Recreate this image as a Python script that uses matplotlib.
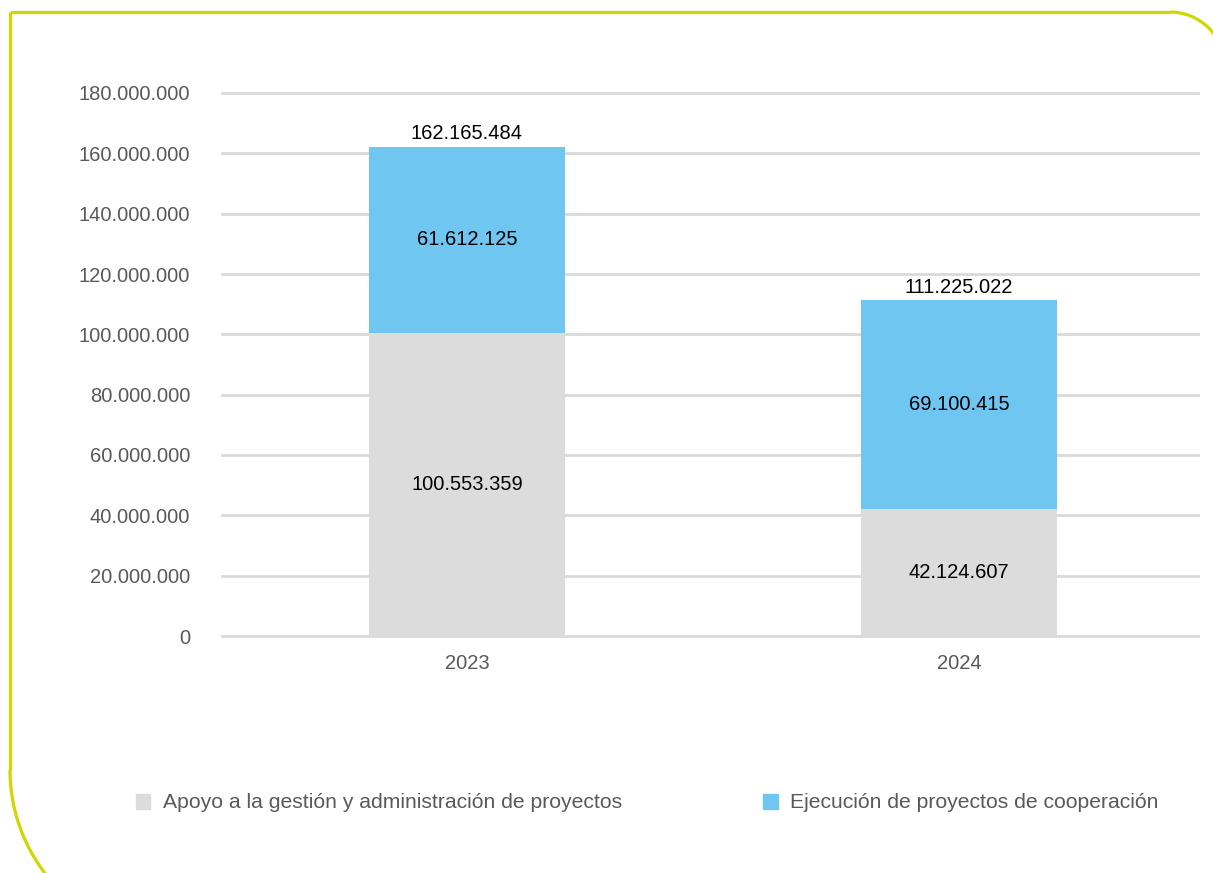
import numpy as np
import matplotlib
matplotlib.use('Agg')
import matplotlib.pyplot as plt
from matplotlib.patches import Arc, Patch

years = ['2023', '2024']
apoyo = [100553359, 42124607]
ejecucion = [61612125, 69100415]
totales = [162165484, 111225022]
series_names = ['Apoyo a la gestión y administración de proyectos',
                'Ejecución de proyectos de cooperación']

GRAY = '#dcdcdc'
BLUE = '#6ec6f1'
FRAME = '#d2d600'
TXT = '#595959'
FS = 14.5

plt.rcParams['font.family'] = ['Liberation Sans', 'DejaVu Sans']


def fmt(v):
    return f'{v:,.0f}'.replace(',', '.')


fig = plt.figure(figsize=(12.13, 8.73), dpi=100)

# rounded frame drawn in pixel coordinates on a full-figure overlay
bg = fig.add_axes([0, 0, 1, 1], zorder=0)
bg.set_xlim(0, 1213)
bg.set_ylim(873, 0)
bg.axis('off')
lw = 2.3
bg.plot([10, 10], [12, 770], color=FRAME, lw=lw, solid_capstyle='butt')
bg.plot([10, 1170], [12, 12], color=FRAME, lw=lw, solid_capstyle='butt')
bg.add_patch(Arc((180, 770), 340, 340, theta1=90, theta2=180,
                 color=FRAME, lw=lw))
bg.add_patch(Arc((1170, 67), 110, 110, theta1=270, theta2=360,
                 color=FRAME, lw=lw))

ax = fig.add_axes([222 / 1213, 237 / 873, (1198 - 222) / 1213, (636 - 93) / 873],
                  zorder=1)
ax.patch.set_alpha(0)
x = np.arange(len(years))
w = 0.4
ax.bar(x, apoyo, w, color=GRAY, zorder=2)
ax.bar(x, ejecucion, w, bottom=apoyo, color=BLUE, zorder=2)

for i in range(len(years)):
    ax.text(x[i], apoyo[i] / 2, fmt(apoyo[i]), ha='center', va='center',
            fontsize=FS, color='black', zorder=3)
    ax.text(x[i], apoyo[i] + ejecucion[i] / 2, fmt(ejecucion[i]),
            ha='center', va='center', fontsize=FS, color='black', zorder=3)
    ax.text(x[i], totales[i] + 1.3e6, fmt(totales[i]), ha='center',
            va='bottom', fontsize=FS, color='black', zorder=3)

ax.set_xlim(-0.498, 1.486)
ax.set_ylim(0, 180e6)
ax.set_yticks(np.arange(0, 180e6 + 1, 20e6))
ax.set_yticklabels([fmt(v) for v in np.arange(0, 180e6 + 1, 20e6)])
ax.set_xticks(x)
ax.set_xticklabels(years)
ax.tick_params(length=0, labelsize=FS, labelcolor=TXT)
ax.tick_params(axis='y', pad=23)
ax.tick_params(axis='x', pad=13)
ax.grid(axis='y', color='#d9d9d9', lw=2, zorder=0)
for gl in ax.get_ygridlines():
    gl.set_clip_on(False)
ax.set_axisbelow(True)
for s in ax.spines.values():
    s.set_visible(False)

handles = [Patch(color=GRAY), Patch(color=BLUE)]
fig.legend(handles, series_names, loc='center', bbox_to_anchor=(647 / 1213, 1 - 803 / 873),
           ncol=2, frameon=False, fontsize=15.2, labelcolor=TXT,
           handlelength=0.71, handleheight=0.71, handletextpad=0.57,
           columnspacing=6.7)

fig.savefig('out.png', dpi=100)
